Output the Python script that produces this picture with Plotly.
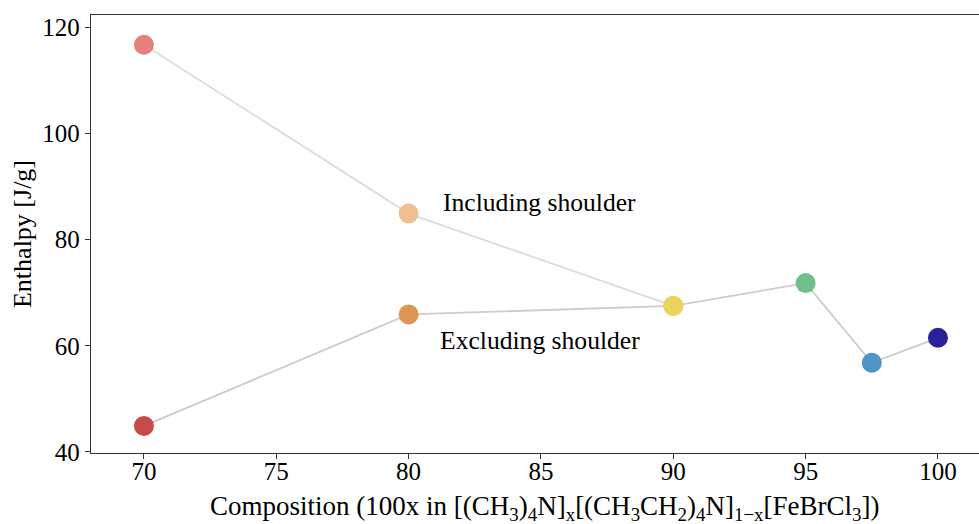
import plotly.graph_objects as go

# Composition (100x) and enthalpy values [J/g]
comp_incl = [70, 80, 90]
enth_incl = [116.7, 84.9, 67.5]
colors_incl = ["#e38180", "#efc192", "#ead45c"]

comp_excl = [70, 80, 90, 95, 97.5, 100]
enth_excl = [44.9, 65.9, 67.5, 71.8, 56.8, 61.5]
colors_excl = ["#c84a4a", "#dc9755", "#ead45c", "#70bf8c", "#4f94c4", "#27229a"]

x_ticks = [70, 75, 80, 85, 90, 95, 100]
y_ticks = [40, 60, 80, 100, 120]

FONT = "Liberation Serif, Times New Roman, serif"
X_TITLE = ("Composition (100x in [(CH<sub>3</sub>)<sub>4</sub>N]<sub>x</sub>"
           "[(CH<sub>3</sub>CH<sub>2</sub>)<sub>4</sub>N]<sub>1\u2212x</sub>"
           "[FeBrCl<sub>3</sub>])")

fig = go.Figure()

fig.add_trace(go.Scatter(
    x=comp_incl, y=enth_incl, mode="lines",
    line=dict(color="#dcdcdc", width=1.8), hoverinfo="skip", showlegend=False,
))
fig.add_trace(go.Scatter(
    x=comp_excl, y=enth_excl, mode="lines",
    line=dict(color="#cccccc", width=1.8), hoverinfo="skip", showlegend=False,
))
fig.add_trace(go.Scatter(
    x=comp_incl, y=enth_incl, mode="markers",
    marker=dict(size=20, color=colors_incl, line=dict(width=0)),
    name="Including shoulder", showlegend=False,
))
fig.add_trace(go.Scatter(
    x=comp_excl, y=enth_excl, mode="markers",
    marker=dict(size=20, color=colors_excl, line=dict(width=0)),
    name="Excluding shoulder", showlegend=False,
))

fig.add_annotation(x=84.95, y=87.0, text="Including shoulder", showarrow=False,
                   font=dict(family=FONT, size=25.6, color="black"))
fig.add_annotation(x=84.95, y=61.0, text="Excluding shoulder", showarrow=False,
                   font=dict(family=FONT, size=25.6, color="black"))

# x-axis title, centred on the full axes span
fig.add_annotation(x=0.5107, y=-0.1256, xref="paper", yref="paper",
                   xanchor="center", yanchor="middle", text=X_TITLE, showarrow=False,
                   font=dict(family=FONT, size=27, color="black"))

fig.update_layout(
    width=979, height=524,
    margin=dict(l=91, r=0, t=15, b=71),
    paper_bgcolor="white", plot_bgcolor="white",
    font=dict(family=FONT, size=25, color="black"),
    xaxis=dict(
        range=[68.0, 101.55], tickvals=x_ticks, ticktext=[str(v) for v in x_ticks],
        showgrid=False, zeroline=False,
        showline=True, linecolor="#333333", linewidth=1.3, mirror=True,
        ticks="outside", ticklen=5, tickcolor="#333333", tickwidth=1,
        tickfont=dict(size=25), ticklabelstandoff=-9,
    ),
    yaxis=dict(
        range=[39.8, 122.3], tickvals=y_ticks, ticktext=[str(v) for v in y_ticks],
        showgrid=False, zeroline=False,
        showline=True, linecolor="#333333", linewidth=1.3,
        ticks="outside", ticklen=5, tickcolor="#333333", tickwidth=1,
        tickfont=dict(size=25),
        title=dict(text="Enthalpy [J/g]", font=dict(size=26), standoff=3),
    ),
)

fig.write_html("out.html")
